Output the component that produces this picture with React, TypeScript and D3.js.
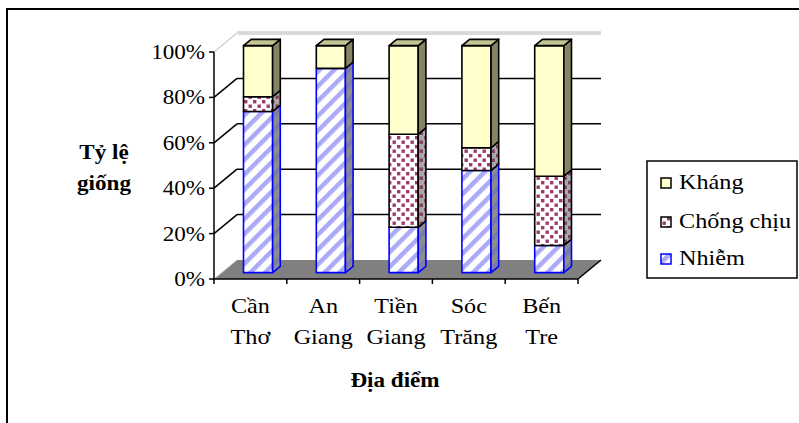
import React from 'react';
import * as d3 from 'd3';

// Share of varieties (%) by reaction, per location
const categories = ['Cần Thơ', 'An Giang', 'Tiền Giang', 'Sóc Trăng', 'Bến Tre'];
const nhiem = [71, 90, 20, 45, 12];
const chongChiu = [6.5, 0, 41, 10, 30.5];
const khang = [22.5, 10, 39, 45, 57.5];
const yTicks = [0, 20, 40, 60, 80, 100];
const legendLabels = ['Kháng', 'Chống chịu', 'Nhiễm'];

const W = 799;
const H = 423;
const FONT = "'Liberation Serif', 'Times New Roman', 'DejaVu Serif', serif";

// front plane of the 3D box and its depth offset
const X0 = 214;
const X1 = 578;
const Y0 = 279;
const Y1 = 52;
const DX = 23;
const DY = -19;

// text is slightly wider than the font's natural proportions
const SX = 1.1;

type Series = {
  key: string;
  values: number[];
  front: string;
  side: string;
  top: string;
  stroke: string;
};

function T({
  x,
  y,
  anchor = 'start',
  size = 21,
  bold = false,
  children,
}: {
  x: number;
  y: number;
  anchor?: 'start' | 'middle' | 'end';
  size?: number;
  bold?: boolean;
  children: React.ReactNode;
}) {
  return (
    <text
      transform={`translate(${x},${y}) scale(${SX},1)`}
      textAnchor={anchor}
      fontSize={size}
      fontWeight={bold ? 'bold' : 'normal'}
      style={{ fontFamily: FONT }}
      fill="#000"
    >
      {children}
    </text>
  );
}

export default function App() {
  const x = d3.scaleBand<string>().domain(categories).range([X0, X1]).paddingInner(0).paddingOuter(0);
  const y = d3.scaleLinear().domain([0, 100]).range([Y0, Y1]);
  const bw = x.bandwidth() * 0.4;
  const fdx = DX / 3;
  const fdy = DY / 3;
  const ddx = DX / 3;
  const ddy = DY / 3;

  const series: Series[] = [
    { key: 'nhiem', values: nhiem, front: 'url(#stripeFront)', side: 'url(#stripeSide)', top: '#9a9ab8', stroke: '#0000ff' },
    { key: 'chong', values: chongChiu, front: 'url(#dotFront)', side: 'url(#dotSide)', top: '#b08898', stroke: '#000' },
    { key: 'khang', values: khang, front: '#ffffcc', side: '#858566', top: '#c4c494', stroke: '#000' },
  ];

  const stack = d3.stack<number>().keys(series.map((_, i) => String(i))).value((d, k) => series[+k].values[d])(
    categories.map((_, i) => i)
  );

  const pts = (p: [number, number][]) => p.map((q) => q.join(',')).join(' ');

  const bars = categories.map((c, ci) => {
    const xl = (x(c) as number) + (x.bandwidth() - bw) / 2 + fdx;
    const xr = xl + bw;
    const parts: React.ReactNode[] = [];
    series.forEach((s, si) => {
      const [v0, v1] = stack[si][ci];
      if (v1 - v0 <= 0) return;
      const yb = y(v0) + fdy;
      const yt = y(v1) + fdy;
      parts.push(
        <g key={`${c}-${s.key}`} stroke={s.stroke} strokeWidth={1.6} strokeLinejoin="round">
          <rect x={xl} y={yt} width={bw} height={yb - yt} fill={s.front} />
          <polygon
            points={pts([
              [xr, yb],
              [xr + ddx, yb + ddy],
              [xr + ddx, yt + ddy],
              [xr, yt],
            ])}
            fill={s.side}
          />
          {v1 >= 99.9 && (
            <polygon
              points={pts([
                [xl, yt],
                [xr, yt],
                [xr + ddx, yt + ddy],
                [xl + ddx, yt + ddy],
              ])}
              fill={s.top}
            />
          )}
        </g>
      );
    });
    return <g key={c}>{parts}</g>;
  });

  const legendItems = [
    { label: legendLabels[0], fill: '#ffffcc', stroke: '#000' },
    { label: legendLabels[1], fill: 'url(#dotFront)', stroke: '#000' },
    { label: legendLabels[2], fill: 'url(#stripeFront)', stroke: '#0000ff' },
  ];
  const legendBaselines = [189, 228, 265];

  return (
    <svg width={W} height={H} style={{ position: 'absolute', left: 0, top: 0 }}>
      <defs>
        <pattern id="stripeFront" width="10.5" height="10.5" patternUnits="userSpaceOnUse" patternTransform="rotate(45)">
          <rect width="10.5" height="10.5" fill="#ffffff" />
          <rect x="0" y="0" width="4.5" height="10.5" fill="#aaaaf6" />
        </pattern>
        <pattern id="stripeSide" width="10.5" height="10.5" patternUnits="userSpaceOnUse" patternTransform="rotate(45)">
          <rect width="10.5" height="10.5" fill="#8e8e8e" />
          <rect x="0" y="0" width="4.5" height="10.5" fill="#7c7ca8" />
        </pattern>
        <pattern id="dotFront" width="9" height="9" patternUnits="userSpaceOnUse">
          <rect width="9" height="9" fill="#ffffff" />
          <rect x="1" y="1" width="3.4" height="3.4" fill="#9c3c6c" />
          <rect x="5.5" y="5.5" width="3.4" height="3.4" fill="#9c3c6c" />
        </pattern>
        <pattern id="dotSide" width="9" height="9" patternUnits="userSpaceOnUse">
          <rect width="9" height="9" fill="#a8a8a8" />
          <rect x="1" y="1" width="3.4" height="3.4" fill="#804060" />
          <rect x="5.5" y="5.5" width="3.4" height="3.4" fill="#804060" />
        </pattern>
      </defs>

      <rect x={0} y={0} width={W} height={H} fill="#fff" />
      {/* outer chart frame */}
      <rect x={7} y={9} width={900} height={600} fill="none" stroke="#000" strokeWidth={2} />

      {/* floor */}
      <polygon
        points={pts([
          [X0, Y0],
          [X0 + DX, Y0 + DY],
          [X1 + DX, Y0 + DY],
          [X1, Y0],
        ])}
        fill="#808080"
      />
      <line x1={X0} y1={Y0} x2={X0 + DX} y2={Y0 + DY} stroke="#c8c8c8" strokeWidth={1} />
      <line x1={X1} y1={Y0} x2={X1 + DX} y2={Y0 + DY} stroke="#000" strokeWidth={1.5} />

      {/* gridlines on the back and side walls */}
      {yTicks.filter((t) => t > 0 && t < 100).map((t) => (
        <g key={`g${t}`} stroke="#000" strokeWidth={1.5}>
          <line x1={X0} y1={y(t)} x2={X0 + DX} y2={y(t) + DY} />
          <line x1={X0 + DX} y1={y(t) + DY} x2={X1 + DX} y2={y(t) + DY} />
        </g>
      ))}
      <g stroke="#b4b4b4" strokeWidth={1}>
        <line x1={X0} y1={y(100)} x2={X0 + DX} y2={y(100) + DY} />
        <line x1={X0 + DX} y1={y(100) + DY - 1} x2={X1 + DX} y2={y(100) + DY - 1} />
        <line x1={X0 + DX + 1} y1={y(100) + DY + 1} x2={X1 + DX} y2={y(100) + DY + 1} />
      </g>

      {/* value axis */}
      <line x1={X0} y1={Y0} x2={X0} y2={Y1} stroke="#000" strokeWidth={1.5} />
      {yTicks.map((t) => (
        <g key={`t${t}`}>
          <line x1={X0 - 5} y1={y(t)} x2={X0} y2={y(t)} stroke="#000" strokeWidth={1.5} />
          <T x={205} y={y(t) + 7} anchor="end" size={21}>
            {`${t}%`}
          </T>
        </g>
      ))}

      {/* category axis */}
      <line x1={X0} y1={Y0} x2={X1} y2={Y0} stroke="#000" strokeWidth={1.5} />
      {[...categories.map((c) => x(c) as number), X1].map((px, i) => (
        <line key={`ct${i}`} x1={px} y1={Y0} x2={px} y2={Y0 + 5} stroke="#000" strokeWidth={1.5} />
      ))}

      {bars}

      {categories.map((c) => {
        const cx = (x(c) as number) + x.bandwidth() / 2;
        const [a, b] = c.split(' ');
        return (
          <g key={`lab${c}`}>
            <T x={cx} y={313} anchor="middle" size={22}>{a}</T>
            <T x={cx} y={344} anchor="middle" size={22}>{b}</T>
          </g>
        );
      })}

      <T x={395} y={387} anchor="middle" size={21} bold>
        Địa điểm
      </T>
      <T x={104} y={159} anchor="middle" size={21} bold>
        Tỷ lệ
      </T>
      <T x={104} y={190} anchor="middle" size={21} bold>
        giống
      </T>

      {/* legend */}
      <rect x={647} y={161} width={150} height={117} fill="#fff" stroke="#000" strokeWidth={1.5} />
      {legendItems.map((it, i) => (
        <g key={it.label}>
          <rect
            x={661}
            y={legendBaselines[i] - 11}
            width={10}
            height={10}
            fill={it.fill}
            stroke={it.stroke}
            strokeWidth={1.5}
          />
          <T x={679} y={legendBaselines[i]} size={22}>
            {it.label}
          </T>
        </g>
      ))}
    </svg>
  );
}
